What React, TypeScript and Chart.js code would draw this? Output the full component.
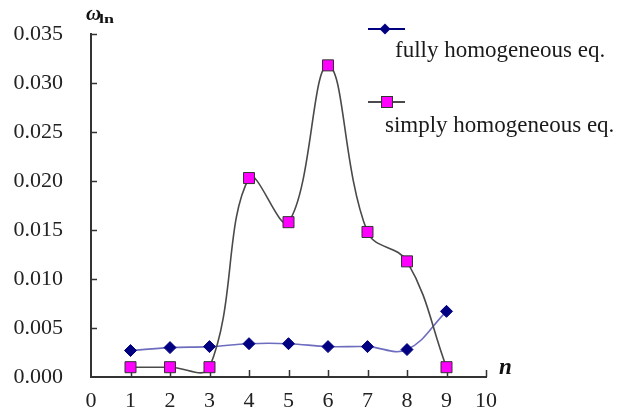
import React, { useEffect, useRef } from 'react';
import { Chart, registerables } from 'chart.js';

Chart.register(...registerables);

// Mode number n on the horizontal axis
const modeNumbers = [1, 2, 3, 4, 5, 6, 7, 8, 9];
// ω_ln for each equation form
const fullyHomogeneous = [0.0027, 0.003, 0.0031, 0.0034, 0.0034, 0.0031, 0.0031, 0.0028, 0.0067];
const simplyHomogeneous = [0.001, 0.001, 0.001, 0.0203, 0.0158, 0.0318, 0.0148, 0.0118, 0.001];
const seriesNames = ['fully homogeneous eq.', 'simply homogeneous eq.'];

const xMin = 0;
const xMax = 10;
const xStep = 1;
const yMin = 0;
const yMax = 0.035;
const yStep = 0.005;

const FONT = '"Liberation Serif", "Times New Roman", serif';
const NAVY = '#000080';
const BLUE_LINE = 'rgba(60, 60, 170, 0.75)';
const GREY_LINE = '#4a4a4a';
const MAGENTA = '#ff00ff';
const AXIS = '#333333';

function drawDiamond(ctx: CanvasRenderingContext2D, x: number, y: number, r: number) {
  ctx.beginPath();
  ctx.moveTo(x, y - r);
  ctx.lineTo(x + r, y);
  ctx.lineTo(x, y + r);
  ctx.lineTo(x - r, y);
  ctx.closePath();
  ctx.fillStyle = NAVY;
  ctx.fill();
}

function drawSquare(ctx: CanvasRenderingContext2D, x: number, y: number, half: number) {
  ctx.fillStyle = MAGENTA;
  ctx.fillRect(x - half, y - half, half * 2, half * 2);
  ctx.strokeStyle = '#333';
  ctx.lineWidth = 1;
  ctx.strokeRect(x - half, y - half, half * 2, half * 2);
}

// Tick marks pointing into the plot, plus axis symbols and the legend block
const decorations = {
  id: 'decorations',
  beforeDatasetsDraw(chart: any) {
    const { ctx, chartArea, scales } = chart;
    const xs = scales.x;
    const ys = scales.y;
    ctx.save();
    ctx.strokeStyle = AXIS;
    ctx.lineWidth = 1.5;
    for (let v = xMin + xStep; v <= xMax + 1e-9; v += xStep) {
      const px = Math.round(xs.getPixelForValue(v)) + 0.5;
      ctx.beginPath();
      ctx.moveTo(px, chartArea.bottom);
      ctx.lineTo(px, chartArea.bottom - 7);
      ctx.stroke();
    }
    for (let v = yMin + yStep; v <= yMax + 1e-9; v += yStep) {
      const py = Math.round(ys.getPixelForValue(v)) + 0.5;
      ctx.beginPath();
      ctx.moveTo(chartArea.left, py);
      ctx.lineTo(chartArea.left + 6, py);
      ctx.stroke();
    }
    ctx.restore();
  },
  afterDraw(chart: any) {
    const { ctx, chartArea } = chart;
    ctx.save();
    ctx.fillStyle = '#111';
    ctx.textBaseline = 'alphabetic';
    ctx.textAlign = 'left';
    // vertical axis symbol ω with subscript
    ctx.font = `italic bold 21px ${FONT}`;
    ctx.fillText('ω', chartArea.left - 5, 20);
    ctx.save();
    ctx.translate(chartArea.left + 8, 23);
    ctx.scale(1.5, 1);
    ctx.font = `bold 12px ${FONT}`;
    ctx.fillText('ln', 0, 0);
    ctx.restore();
    // horizontal axis symbol n
    ctx.font = `italic bold 23px ${FONT}`;
    ctx.fillText('n', chartArea.right + 13, chartArea.bottom - 3);

    // legend: sample line above each label
    const lx0 = 368;
    const lx1 = 405;
    ctx.lineWidth = 2;
    ctx.strokeStyle = NAVY;
    ctx.beginPath();
    ctx.moveTo(lx0, 29);
    ctx.lineTo(lx1, 29);
    ctx.stroke();
    drawDiamond(ctx, 385, 29, 5.5);
    ctx.strokeStyle = GREY_LINE;
    ctx.beginPath();
    ctx.moveTo(lx0, 102);
    ctx.lineTo(lx1, 102);
    ctx.stroke();
    drawSquare(ctx, 387, 102, 5.5);

    ctx.fillStyle = '#1a1a1a';
    ctx.font = `23px ${FONT}`;
    ctx.fillText(seriesNames[0], 395, 57);
    ctx.fillText(seriesNames[1], 385, 132);
    ctx.restore();
  },
};

export default function App() {
  const canvasRef = useRef<HTMLCanvasElement | null>(null);

  useEffect(() => {
    const canvas = canvasRef.current;
    if (!canvas) return;
    const chart = new Chart(canvas, {
      type: 'line',
      data: {
        datasets: [
          {
            label: seriesNames[0],
            data: modeNumbers.map((n, i) => ({ x: n, y: fullyHomogeneous[i] })),
            borderColor: BLUE_LINE,
            borderWidth: 1.6,
            tension: 0.4,
            capBezierPoints: false,
            pointStyle: 'rectRot',
            pointRadius: 6,
            pointBackgroundColor: NAVY,
            pointBorderColor: NAVY,
            pointBorderWidth: 1,
            fill: false,
            order: 1,
          },
          {
            label: seriesNames[1],
            data: modeNumbers.map((n, i) => ({ x: n, y: simplyHomogeneous[i] })),
            borderColor: GREY_LINE,
            borderWidth: 1.6,
            tension: 0.4,
            capBezierPoints: false,
            pointStyle: 'rect',
            pointRadius: 7.8,
            pointBackgroundColor: MAGENTA,
            pointBorderColor: '#333',
            pointBorderWidth: 1,
            fill: false,
            order: 0,
          },
        ],
      },
      options: {
        responsive: false,
        animation: false,
        events: [],
        clip: false,
        layout: { padding: { top: 34, right: 136, left: 0, bottom: 0 } },
        plugins: {
          legend: { display: false },
          tooltip: { enabled: false },
          title: { display: false },
        },
        scales: {
          x: {
            type: 'linear',
            min: xMin,
            max: xMax,
            grid: {
              display: true,
              drawOnChartArea: false,
              drawTicks: true,
              tickLength: 11,
              tickColor: 'rgba(0,0,0,0)',
            },
            border: { display: true, color: AXIS, width: 2 },
            ticks: {
              stepSize: xStep,
              padding: 0,
              color: '#222',
              font: { family: FONT, size: 22 },
              callback: (v: any) => String(v),
            },
            afterFit: (s: any) => {
              s.height = 41;
            },
          },
          y: {
            type: 'linear',
            min: yMin,
            max: yMax,
            grid: {
              display: true,
              drawOnChartArea: false,
              drawTicks: true,
              tickLength: 28,
              tickColor: 'rgba(0,0,0,0)',
            },
            border: { display: true, color: AXIS, width: 2 },
            ticks: {
              stepSize: yStep,
              padding: 0,
              color: '#222',
              font: { family: FONT, size: 22 },
              callback: (v: any) => Number(v).toFixed(3),
            },
            afterFit: (s: any) => {
              s.width = 91;
            },
          },
        },
      } as any,
      plugins: [decorations],
    });
    return () => chart.destroy();
  }, []);

  return (
    <div style={{ position: 'absolute', left: 0, top: 0, width: 622, height: 418, background: '#fff' }}>
      <canvas ref={canvasRef} width={622} height={418} />
    </div>
  );
}
